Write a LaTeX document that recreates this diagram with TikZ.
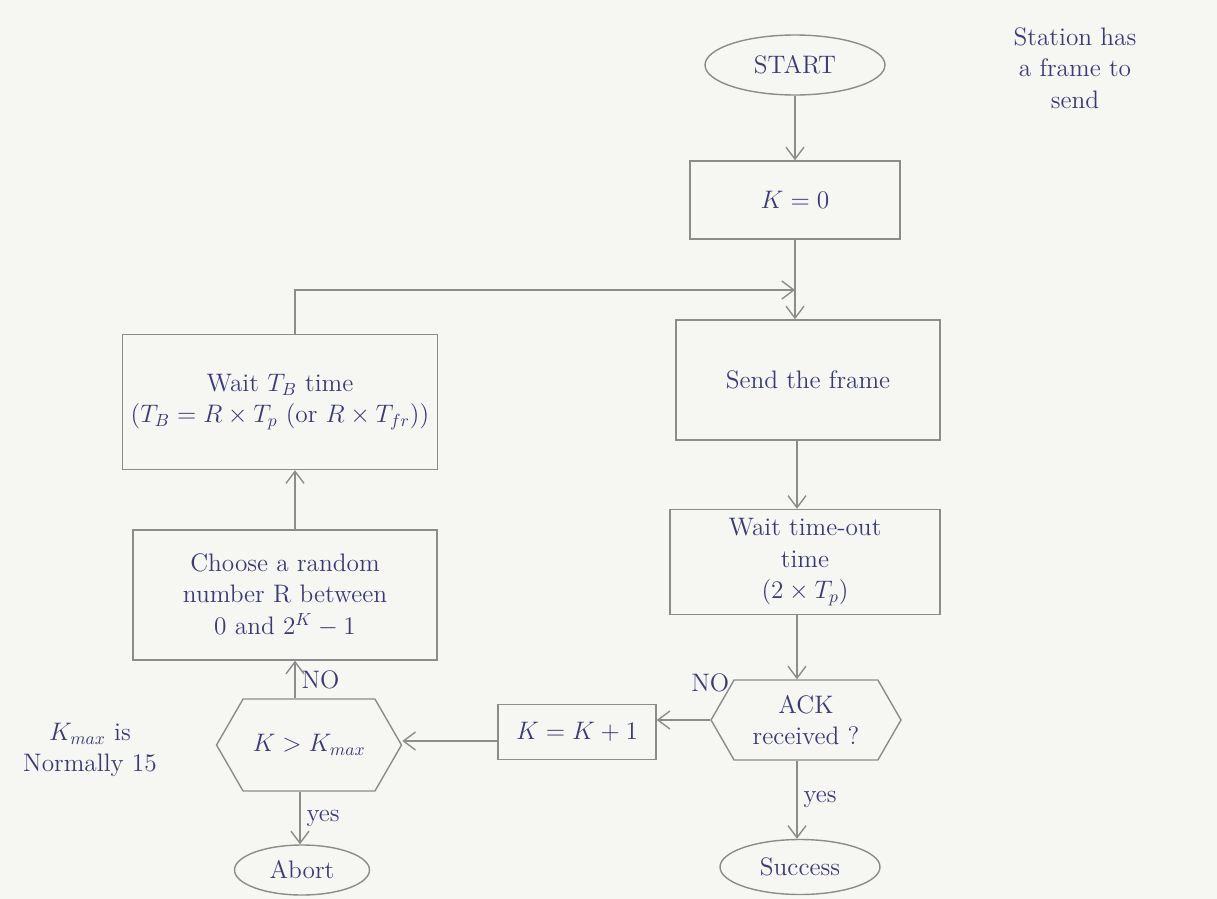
\documentclass[tikz,border=0pt]{standalone}
\usetikzlibrary{shapes.geometric,shapes.symbols,arrows.meta}
\definecolor{pencil}{HTML}{8C8C8C}
\definecolor{ink}{HTML}{3A3A78}
\definecolor{paper}{HTML}{F6F6F3}
\begin{document}
\begin{tikzpicture}[x=0.02cm, y=-0.02cm, thick, font=\Large, text=ink,
  >={Straight Barb[length=2.4mm,width=3.6mm]},
  box/.style={rectangle, draw=pencil, align=center},
  term/.style={ellipse, draw=pencil, align=center},
  decide/.style={signal, signal to=east and west, signal pointer angle=120, draw=pencil, align=center},
  flow/.style={->, draw=pencil}]
\fill[paper] (0,0) rectangle (1217,899);
\useasboundingbox (0,0) rectangle (1217,899);
% Start
\node (start) [term, minimum width=3.6cm, minimum height=1.2cm] at (795,65) {START};
\node (note) [align=center] at (1075,68) {Station has\\a frame to\\send};
\node (k0) [box, minimum width=4.2cm, minimum height=1.56cm] at (795,200) {$K=0$};
\node (send) [box, minimum width=5.28cm, minimum height=2.4cm] at (808,380) {Send the frame};
\node (timeout) [box, minimum width=5.4cm, minimum height=2.1cm] at (805,562) {Wait time-out\\time\\$(2\times T_p)$};
\node (ack) [decide, minimum width=3.8cm, minimum height=1.6cm] at (806,720) {ACK\\received ?};
\node (success) [term, minimum width=3.2cm, minimum height=1.1cm] at (800,867) {Success};

% back-off branch
\node (inc) [box, minimum width=3.16cm, minimum height=1.1cm] at (577,732) {$K=K+1$};
\node (kmax) [decide, minimum width=3.7cm, minimum height=1.84cm] at (309,745) {$K>K_{max}$};
\node (abort) [term, minimum width=2.7cm, minimum height=1cm] at (302,870) {Abort};
\node (choose) [box, minimum width=6.08cm, minimum height=2.6cm] at (285,595) {Choose a random\\number R between\\0 and $2^K-1$};
\node (waittb) [box, minimum width=6.3cm, minimum height=2.7cm] at (280,402) {Wait $T_B$ time\\($T_B=R\times T_p$ (or $R\times T_{fr}$))};
\node (kmaxnote) [align=center] at (90,750) {$K_{max}$ is\\Normally 15};
\coordinate (join) at (795,290);

\draw [flow] (start) -- (start.south |- k0.north);
\draw [flow] (k0.south -| 795,0) -- (send.north -| 795,0);
\draw [flow] (send.south -| 797,0) -- (timeout.north -| 797,0);
\draw [flow] (timeout.south -| 797,0) -- (ack.north -| 797,0);
\draw [flow] (ack.south -| 797,0) -- node[right] {yes} (success.north -| 797,0);
\draw [flow] (ack.west) -- node[above, pos=0, yshift=12pt] {NO} (ack.west -| inc.east);
\draw [flow] (inc.west |- 0,741) -- (kmax.east |- 0,741);
\draw [flow] (kmax.south -| 300,0) -- node[right] {yes} (abort.north -| 300,0);
\draw [flow] (kmax.north -| 295,0) -- node[right] {NO} (choose.south -| 295,0);
\draw [flow] (choose.north -| 295,0) -- (waittb.south -| 295,0);
\draw [flow] (waittb.north -| 295,0) |- (join);
\end{tikzpicture}
\end{document}
